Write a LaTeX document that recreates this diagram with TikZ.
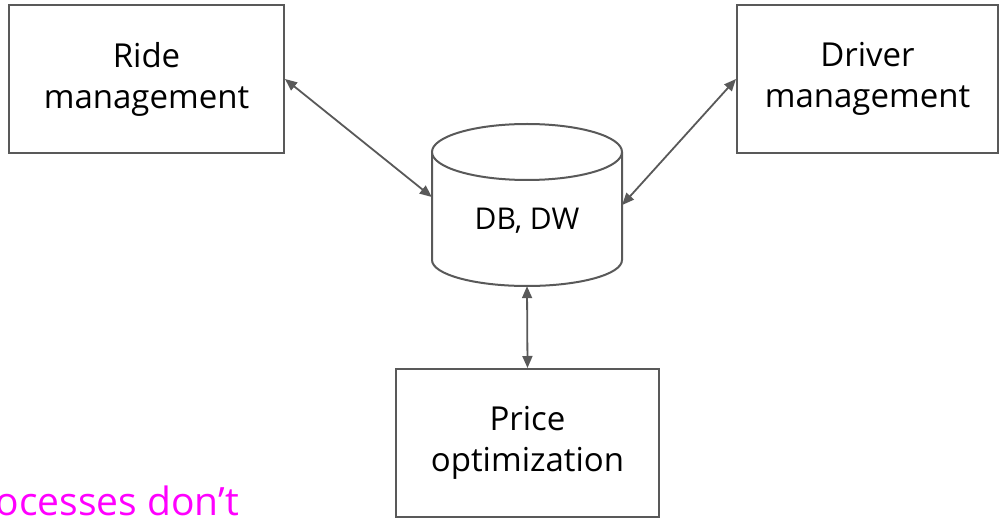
\documentclass[tikz,border=0pt]{standalone}
\usepackage{fontspec}
\setmainfont{Open Sans}
\usetikzlibrary{arrows.meta}
\definecolor{linegray}{HTML}{595959}
\definecolor{magentatext}{HTML}{FF00FF}
\tikzset{
  procbox/.style={draw=linegray, line width=2pt, fill=white, align=center,
    font=\fontsize{33}{41}\selectfont, inner sep=0pt},
  conn/.style={draw=linegray, line width=1.8pt,
    {Triangle[length=12pt,width=10pt]}-{Triangle[length=12pt,width=10pt]}},
}
\begin{document}
\begin{tikzpicture}[x=1pt,y=-1pt]
\useasboundingbox (0,0) rectangle (999,518);
\clip (0,0) rectangle (999,518);
% boxes
\node[procbox, minimum width=275pt, minimum height=148pt] (ride) at (146.5,79) {Ride\\management};
\node[procbox, minimum width=261pt, minimum height=148pt] (driver) at (867.5,79) {Driver\\management};
\node[procbox, minimum width=263pt, minimum height=148pt] (price) at (527.5,443) {Price\\optimization};
% cylinder
\draw[linegray, line width=2pt, fill=white]
  (432,152) -- (432,260) arc[start angle=180, end angle=360, x radius=95pt, y radius=26pt] -- (622,152);
\draw[linegray, line width=2pt, fill=white] (527,152) ellipse [x radius=95pt, y radius=28pt];
\node[minimum width=190pt, minimum height=162pt, inner sep=0pt] (db) at (527,205) {};
\node[font=\fontsize{30}{36}\selectfont, inner sep=0pt] (dbtext) at (527,221) {DB, DW};
% connectors
\draw[conn] (ride.east) -- ([yshift=8pt]db.west);
\draw[conn] (driver.west) -- (db.east);
\draw[conn] (db.south) -- (price.north);
% cut-off note
\node[text=magentatext, font=\fontsize{39}{46}\selectfont, inner sep=0pt, anchor=base east] (note) at (239,515) {ocesses don’t};
\end{tikzpicture}
\end{document}
